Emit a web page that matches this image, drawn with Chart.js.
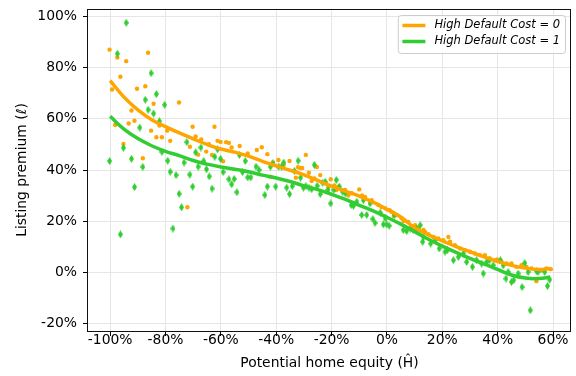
<!DOCTYPE html>
<html>
<head>
<meta charset="utf-8">
<script src="https://cdn.jsdelivr.net/npm/chart.js@4.4.0/dist/chart.umd.min.js"></script>
<style>
  body { margin: 0; background: #fff; }
  canvas { display: block; }
</style>
</head>
<body>
<canvas id="myChart" width="576" height="376"></canvas>
<script>
'use strict';

// ******* DATA *******
// High Default Cost = 0 (orange dots)
let equity0 = [
  -100.2, -99.3, -98.2, -97.4, -96.3, -95.2, -94.2, -93.3, -92.3, -91.2, -90.3, -88.2,
  -87.3, -86.3, -85.2, -84.3, -83.3, -82.2, -81.3, -79.4, -78.3, -75.1, -72.1, -71.2,
  -70.2, -69.1, -68.2, -67.1, -65.3, -64.3, -63.2, -62.3, -61.2, -60.1, -59.2, -58.1,
  -57.1, -56.1, -53.2, -50.3, -47.0, -45.2, -43.2, -42.1, -41.2, -39.2, -37.3, -35.2,
  -33.1, -32.9, -32.1, -31.2, -30.6, -29.3, -28.2, -27.2, -26.2, -25.3, -24.1, -22.3,
  -21.2, -20.3, -19.0, -18.3, -17.5, -15.1, -14.0, -12.7, -10.0, -9.0, -7.9, -6.0,
  -5.5, -3.1, -2.0, -0.6, 1.0, 1.7, 2.5, 3.5, 5.3, 6.0, 7.7, 9.0, 10.2, 11.5, 13.2,
  13.8, 15.0, 16.8, 18.6, 20.4, 22.2, 22.8, 24.6, 26.4, 28.2, 30.0, 31.8, 33.6, 35.4,
  37.2, 39.0, 39.8, 41.4, 43.2, 45.0, 46.8, 48.6, 50.4, 52.2, 54.0, 55.8, 57.6, 59.2
];
let premium0 = [
  87.1, 71.5, 57.6, 84.0, 76.5, 50.2, 82.6, 58.2, 63.3, 59.3, 71.8, 44.6,
  72.8, 85.9, 55.4, 65.9, 52.8, 57.4, 52.8, 55.4, 51.4, 66.4, 25.4, 49.1,
  56.9, 53.1, 46.0, 52.0, 47.2, 50.1, 45.9, 56.9, 51.4, 51.0, 43.4, 50.9,
  50.6, 48.8, 49.4, 46.5, 47.8, 48.9, 46.2, 37.4, 43.0, 43.9, 42.0, 43.5,
  39.3, 37.0, 41.1, 40.8, 40.8, 45.9, 38.9, 35.7, 36.7, 41.2, 38.0, 35.0,
  33.3, 36.4, 34.0, 32.2, 33.5, 32.2, 30.0, 30.9, 32.4, 30.0, 29.5, 27.5,
  28.2, 26.3, 25.5, 25.0, 24.3, 23.6, 22.0, 22.4, 21.1, 20.0, 19.7, 18.0, 18.4, 17.5, 16.5,
  15.8, 14.9, 13.8, 13.2, 12.5, 13.8, 11.9, 10.6, 9.3, 8.6, 8.0, 7.3, 6.7, 6.7,
  5.4, 4.7, 5.0, 4.0, 3.4, 3.4, 2.1, 2.7, 2.1, 1.5, -3.5, 0.8, 1.5, 1.2
];

// High Default Cost = 1 (green diamonds)
let equity1 = [
  -100.2, -97.4, -96.3, -95.2, -94.2, -92.3, -91.2, -89.3, -88.2, -87.3, -86.3, -85.2,
  -84.3, -83.3, -82.2, -81.3, -80.3, -79.2, -78.3, -77.3, -76.2, -75.1, -74.2, -73.3,
  -72.3, -71.2, -70.2, -69.1, -68.2, -67.2, -66.2, -65.2, -64.2, -63.2, -62.2, -61.2,
  -60.1, -59.2, -57.1, -56.1, -55.2, -54.2, -53.3, -52.2, -51.2, -50.3, -49.2, -47.3,
  -46.2, -44.1, -43.2, -42.1, -41.2, -40.2, -39.1, -38.1, -37.3, -36.2, -35.2, -34.2,
  -33.4, -32.1, -31.2, -30.2, -29.3, -28.2, -27.2, -26.2, -25.2, -24.1, -23.2, -22.3,
  -21.3, -20.3, -19.2, -18.3, -17.2, -16.0, -15.1, -12.9, -12.1, -10.9, -9.1, -8.5,
  -7.3, -6.1, -5.1, -4.3, -2.4, -1.3, -0.6, -0.1, 0.8, 2.7, 5.9, 7.1, 8.4, 9.5,
  10.7, 12.0, 12.9, 13.2, 15.8, 17.4, 18.9, 21.0, 21.8, 24.0, 25.8, 27.6, 28.8, 30.9,
  32.4, 34.2, 34.8, 36.0, 37.0, 38.4, 41.0, 42.0, 43.0, 43.8, 45.0, 45.8, 47.4, 48.8,
  49.8, 51.0, 51.8, 54.0, 54.6, 57.0, 58.0, 58.8
];
let premium1 = [
  43.5, 85.5, 14.8, 48.7, 97.6, 44.4, 33.3, 56.6, 41.2, 67.5, 63.6, 77.9,
  62.1, 69.7, 59.1, 47.1, 65.5, 43.6, 39.3, 17.1, 38.0, 30.7, 25.4, 42.9,
  50.9, 38.2, 33.5, 46.9, 41.3, 48.8, 43.5, 40.3, 37.5, 32.7, 45.2, 48.1,
  44.4, 39.2, 36.4, 34.4, 36.5, 31.3, 45.9, 39.2, 43.5, 37.1, 37.1, 41.3,
  40.0, 30.2, 33.5, 41.3, 42.6, 33.5, 41.3, 41.3, 42.9, 33.1, 30.6, 33.7,
  39.6, 43.6, 37.0, 33.1, 33.7, 33.1, 32.5, 42.0, 33.8, 30.6, 35.0, 35.4,
  32.2, 26.9, 32.2, 36.1, 33.5, 31.5, 30.9, 26.3, 26.0, 27.6, 22.4, 28.2,
  22.4, 26.9, 20.8, 19.3, 23.3, 18.7, 21.1, 18.7, 18.2, 22.4, 16.5, 16.1, 17.1, 16.5,
  17.1, 18.4, 11.9, 13.8, 11.2, 12.5, 9.3, 8.0, 8.6, 4.7, 6.0, 7.3, 4.0, 2.1,
  4.7, 3.4, -0.5, 4.0, 4.7, 2.7, 4.7, 2.7, -2.5, 0.1, -3.8, -3.1, -0.5, -5.8,
  3.6, 0.1, -14.9, 0.5, 0.1, 0.1, -5.4, -2.9
];

// fitted curves for both groups
let fitX = [
  -100, -95, -90, -85, -80, -75, -70, -65, -60, -55, -50, -45, -40, -35, -30, -25, -20,
  -15, -10, -5, 0, 5, 10, 15, 20, 25, 30, 35, 40, 45, 50, 55, 59
];
let fit0 = [
  75.0, 68.5, 63.5, 59.7, 57.0, 54.5, 52.2, 50.0, 48.2, 47.0, 45.4, 43.4, 41.6, 39.9, 38.1, 35.9, 33.7,
  31.7, 29.8, 27.4, 24.6, 21.6, 17.4, 14.6, 12.3, 10.0, 8.0, 6.0, 4.2, 2.7, 1.6, 1.1, 1.5
];
let fit1 = [
  61.0, 56.0, 52.3, 49.5, 47.3, 45.6, 43.7, 42.3, 41.2, 40.3, 39.3, 38.0, 36.9, 35.5, 33.8, 32.3, 30.5,
  28.5, 26.2, 24.0, 21.5, 18.8, 15.9, 12.9, 10.2, 7.8, 5.4, 3.3, 1.1, -1.1, -2.3, -2.5, -1.9
];

let xTicks = [-100, -80, -60, -40, -20, 0, 20, 40, 60];
let yTicks = [-20, 0, 20, 40, 60, 80, 100];

let seriesLabels = ['High Default Cost = 0', 'High Default Cost = 1'];

// ******* HELPERS *******
const ORANGE = '#ffa500';
const GREEN = '#32cd32';
const FONT = 'DejaVu Sans';

function toPoints(xs, ys) {
  return xs.map((x, i) => ({ x: x, y: ys[i] }));
}

// thin diamond marker for the second group
function thinDiamond() {
  let c = document.createElement('canvas');
  c.width = 5;
  c.height = 8;
  let g = c.getContext('2d');
  g.fillStyle = GREEN;
  g.beginPath();
  g.moveTo(2.5, 0);
  g.lineTo(5, 4);
  g.lineTo(2.5, 8);
  g.lineTo(0, 4);
  g.closePath();
  g.fill();
  return c;
}

// keep tick labels from pushing the plot area inwards
function noScalePadding(scale) {
  scale.paddingTop = 0;
  scale.paddingBottom = 0;
  scale.paddingLeft = 0;
  scale.paddingRight = 0;
}

// black frame round the plot area (all four spines)
const frame = {
  id: 'frame',
  afterDatasetsDraw(chart) {
    let ctx = chart.ctx;
    let a = chart.chartArea;
    ctx.save();
    ctx.strokeStyle = '#111';
    ctx.lineWidth = 1;
    ctx.strokeRect(Math.round(a.left) - 0.5, Math.round(a.top) + 0.5,
      Math.round(a.right - a.left), Math.round(a.bottom - a.top));
    ctx.restore();
  }
};

// legend box in the upper right corner, showing the two fitted lines
const legendBox = {
  id: 'legendBox',
  afterDraw(chart) {
    let ctx = chart.ctx;
    let a = chart.chartArea;
    ctx.save();
    ctx.font = 'italic 11.5px "' + FONT + '"';
    let textW = Math.max(...seriesLabels.map(s => ctx.measureText(s).width));
    let w = 4.6 + 23 + 9 + textW + 5;
    let h = 38;
    let right = a.right - 6;
    let top = a.top + 6;
    let left = right - w;

    ctx.beginPath();
    ctx.roundRect(left + 0.5, top + 0.5, w, h, 3);
    ctx.fillStyle = 'rgba(255,255,255,0.8)';
    ctx.fill();
    ctx.strokeStyle = '#cccccc';
    ctx.lineWidth = 1;
    ctx.stroke();

    let colors = [ORANGE, GREEN];
    for (let i = 0; i < seriesLabels.length; i++) {
      let y = top + 10.5 + i * 16;
      ctx.strokeStyle = colors[i];
      ctx.lineWidth = 3.5;
      ctx.beginPath();
      ctx.moveTo(left + 4.6, y);
      ctx.lineTo(left + 4.6 + 23, y);
      ctx.stroke();
      ctx.fillStyle = '#000';
      ctx.textBaseline = 'middle';
      ctx.fillText(seriesLabels[i], left + 4.6 + 23 + 9, y);
    }
    ctx.restore();
  }
};

// ******* CHART *******
let canvasElem = document.getElementById('myChart').getContext('2d');

let myChartObj = {
  type: 'scatter',
  data: {
    datasets: [
      {
        type: 'line',
        label: seriesLabels[1],
        data: toPoints(fitX, fit1),
        borderColor: GREEN,
        borderWidth: 3.5,
        pointRadius: 0,
        tension: 0.4,
        order: 0
      },
      {
        type: 'line',
        label: seriesLabels[0],
        data: toPoints(fitX, fit0),
        borderColor: ORANGE,
        borderWidth: 3.5,
        pointRadius: 0,
        tension: 0.4,
        order: 1
      },
      {
        label: 'points 1',
        data: toPoints(equity1, premium1),
        pointStyle: thinDiamond(),
        pointRadius: 4,
        order: 2
      },
      {
        label: 'points 0',
        data: toPoints(equity0, premium0),
        backgroundColor: ORANGE,
        borderWidth: 0,
        pointRadius: 2.2,
        order: 3
      }
    ]
  },
  options: {
    responsive: false,
    animation: false,
    devicePixelRatio: 1,
    layout: { padding: { top: 9, right: 2, left: 0, bottom: 0 } },
    plugins: {
      legend: { display: false },
      tooltip: { enabled: false }
    },
    scales: {
      x: {
        type: 'linear',
        min: -108,
        max: 66.5,
        afterBuildTicks: (scale) => { scale.ticks = xTicks.map(v => ({ value: v })); },
        afterFit: (scale) => { scale.height = 45; noScalePadding(scale); },
        border: { display: false },
        grid: { color: '#e6e6e6', lineWidth: 1, tickColor: '#000', tickLength: 5 },
        ticks: {
          autoSkip: false,
          maxRotation: 0,
          padding: -4,
          color: '#000',
          font: { family: FONT, size: 13.9 },
          callback: (v) => v + '%'
        },
        title: {
          display: true,
          text: 'Potential home equity (Ĥ)',
          color: '#000',
          font: { family: FONT, size: 13.9 },
          padding: { top: 0, bottom: 4.5 }
        }
      },
      y: {
        type: 'linear',
        min: -23,
        max: 103,
        afterBuildTicks: (scale) => { scale.ticks = yTicks.map(v => ({ value: v })); },
        afterFit: (scale) => { scale.width = 88; noScalePadding(scale); },
        border: { display: false },
        grid: { color: '#e6e6e6', lineWidth: 1, tickColor: '#000', tickLength: 5 },
        ticks: {
          autoSkip: false,
          padding: 6,
          color: '#000',
          font: { family: FONT, size: 13.9 },
          callback: (v) => v + '%'
        },
        title: {
          display: true,
          text: 'Listing premium (ℓ)',
          color: '#000',
          font: { family: FONT, size: 13.9 },
          padding: { top: 14, bottom: 0 }
        }
      }
    }
  },
  plugins: [frame, legendBox]
};

new Chart(canvasElem, myChartObj);
</script>
</body>
</html>
